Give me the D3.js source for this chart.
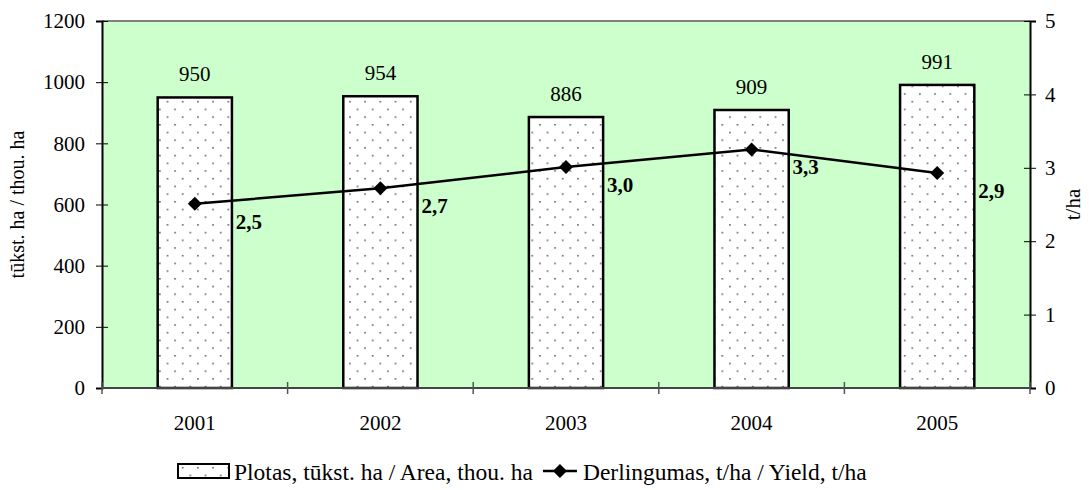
<!DOCTYPE html>
<html>
<head>
<meta charset="utf-8">
<script src="https://cdn.jsdelivr.net/npm/d3@7"></script>
<style>
  body { margin: 0; background: #fff; }
  svg text { font-family: "Liberation Serif", "Times New Roman", serif; fill: #000; }
</style>
</head>
<body>
<div id="chart"></div>
<script>
const years = ["2001", "2002", "2003", "2004", "2005"];
const area = [950, 954, 886, 909, 991];
const yieldVals = [2.51, 2.72, 3.01, 3.25, 2.93];
const yieldLabels = ["2,5", "2,7", "3,0", "3,3", "2,9"];
const leftTicks = [0, 200, 400, 600, 800, 1000, 1200];
const rightTicks = [0, 1, 2, 3, 4, 5];

const width = 1089, height = 490;
const margin = { top: 21, right: 59, bottom: 102, left: 102 };
const innerW = width - margin.left - margin.right;
const innerH = height - margin.top - margin.bottom;
const serif = "'Liberation Serif', 'Times New Roman', serif";

const svg = d3.select("#chart").append("svg")
  .attr("width", width)
  .attr("height", height)
  .attr("font-family", serif);

// dotted fill used by the bars and the legend box
const defs = svg.append("defs");
const pat = defs.append("pattern")
  .attr("id", "dots")
  .attr("patternUnits", "userSpaceOnUse")
  .attr("width", 15.2)
  .attr("height", 15.4);
pat.append("rect").attr("width", 15.2).attr("height", 15.4).attr("fill", "#fff");
pat.append("rect").attr("x", 4).attr("y", 3).attr("width", 1.4).attr("height", 1.4).attr("fill", "#333");
pat.append("rect").attr("x", 11.6).attr("y", 10.7).attr("width", 1.4).attr("height", 1.4).attr("fill", "#333");

const g = svg.append("g").attr("transform", `translate(${margin.left},${margin.top})`);

const x = d3.scaleBand().domain(years).range([0, innerW]).paddingInner(0.6).paddingOuter(0.3);
const xBound = d3.scaleLinear().domain([0, years.length]).range([0, innerW]);
const y = d3.scaleLinear().domain([0, 1200]).range([innerH, 0]);
const y2 = d3.scaleLinear().domain([0, 5]).range([innerH, 0]);

// plot background
g.append("rect")
  .attr("width", innerW)
  .attr("height", innerH)
  .attr("fill", "#ccffcc");
g.append("line")
  .attr("x1", 0).attr("x2", innerW)
  .attr("y1", 0).attr("y2", 0)
  .attr("stroke", "#808080").attr("stroke-width", 2);

// bars
g.selectAll(".bar")
  .data(years)
  .enter().append("rect")
  .attr("class", "bar")
  .attr("x", d => x(d))
  .attr("y", (d, i) => y(area[i]))
  .attr("width", x.bandwidth())
  .attr("height", (d, i) => innerH - y(area[i]))
  .attr("fill", "url(#dots)")
  .attr("stroke", "#000")
  .attr("stroke-width", 2.5);

g.selectAll(".bar-label")
  .data(years)
  .enter().append("text")
  .attr("class", "bar-label")
  .attr("x", d => x(d) + x.bandwidth() / 2)
  .attr("y", (d, i) => y(area[i]) - 16)
  .attr("text-anchor", "middle")
  .style("font-size", "21px")
  .text((d, i) => area[i]);

// axes
const leftAxis = g.append("g")
  .call(d3.axisLeft(y).tickValues(leftTicks).tickFormat(d3.format("d")).tickSize(6).tickPadding(11));
leftAxis.attr("font-family", null).attr("font-size", null);
leftAxis.select(".domain").attr("stroke", "#000").attr("stroke-width", 2);
leftAxis.selectAll(".tick line").attr("x2", -6).attr("x1", 6).attr("stroke", "#000");
leftAxis.selectAll(".tick text").style("font-size", "21px");

const rightAxis = g.append("g")
  .attr("transform", `translate(${innerW},0)`)
  .call(d3.axisRight(y2).tickValues(rightTicks).tickFormat(d3.format("d")).tickSize(6).tickPadding(9));
rightAxis.attr("font-family", null).attr("font-size", null);
rightAxis.select(".domain").attr("stroke", "#000").attr("stroke-width", 2);
rightAxis.selectAll(".tick line").attr("x1", -6).attr("x2", 6).attr("stroke", "#000");
rightAxis.selectAll(".tick text").style("font-size", "21px");

// x axis with category boundary ticks
const xAxisG = g.append("g").attr("transform", `translate(0,${innerH})`);
xAxisG.append("line")
  .attr("x1", 0).attr("x2", innerW)
  .attr("stroke", "#444").attr("stroke-width", 2);
xAxisG.selectAll(".bound")
  .data(d3.range(years.length + 1))
  .enter().append("line")
  .attr("x1", d => xBound(d)).attr("x2", d => xBound(d))
  .attr("y1", -6).attr("y2", 6)
  .attr("stroke", "#555").attr("stroke-width", 1.5);
xAxisG.selectAll(".xlab")
  .data(years)
  .enter().append("text")
  .attr("x", d => x(d) + x.bandwidth() / 2)
  .attr("y", 42)
  .attr("text-anchor", "middle")
  .style("font-size", "21px")
  .text(d => d);

// axis titles
svg.append("text")
  .attr("transform", `translate(24,${margin.top + innerH / 2}) rotate(-90)`)
  .attr("text-anchor", "middle")
  .style("font-size", "20px")
  .text("tūkst. ha / thou. ha");
svg.append("text")
  .attr("transform", `translate(1080,${margin.top + innerH / 2}) rotate(-90)`)
  .attr("text-anchor", "middle")
  .style("font-size", "21px")
  .text("t/ha");

// yield line
const cx = d => x(d) + x.bandwidth() / 2;
const line = d3.line()
  .x((d, i) => cx(years[i]))
  .y(d => y2(d));
g.append("path")
  .datum(yieldVals)
  .attr("d", line)
  .attr("fill", "none")
  .attr("stroke", "#000")
  .attr("stroke-width", 2.5);

const diamond = "M0,-7L7,0L0,7L-7,0Z";
g.selectAll(".pt")
  .data(yieldVals)
  .enter().append("path")
  .attr("class", "pt")
  .attr("d", diamond)
  .attr("transform", (d, i) => `translate(${cx(years[i])},${y2(d)})`)
  .attr("fill", "#000");

g.selectAll(".pt-label")
  .data(yieldVals)
  .enter().append("text")
  .attr("x", (d, i) => cx(years[i]) + 41)
  .attr("y", d => y2(d) + 25)
  .style("font-size", "21px")
  .style("font-weight", "bold")
  .text((d, i) => yieldLabels[i]);

// legend
const legend = svg.append("g").attr("transform", "translate(178,464)");
legend.append("rect")
  .attr("x", 0).attr("y", 0)
  .attr("width", 51).attr("height", 14)
  .attr("fill", "url(#dots)")
  .attr("stroke", "#000")
  .attr("stroke-width", 2);
const t1 = legend.append("text")
  .attr("x", 56).attr("y", 16)
  .style("font-size", "23.5px")
  .text("Plotas, tūkst. ha / Area, thou. ha");
const lx = 56 + t1.node().getComputedTextLength() + 10;
legend.append("line")
  .attr("x1", lx).attr("x2", lx + 34)
  .attr("y1", 7).attr("y2", 7)
  .attr("stroke", "#000").attr("stroke-width", 2.5);
legend.append("path")
  .attr("d", diamond)
  .attr("transform", `translate(${lx + 17},7)`)
  .attr("fill", "#000");
legend.append("text")
  .attr("x", lx + 40).attr("y", 16)
  .style("font-size", "23.5px")
  .text("Derlingumas, t/ha / Yield, t/ha");
</script>
</body>
</html>
